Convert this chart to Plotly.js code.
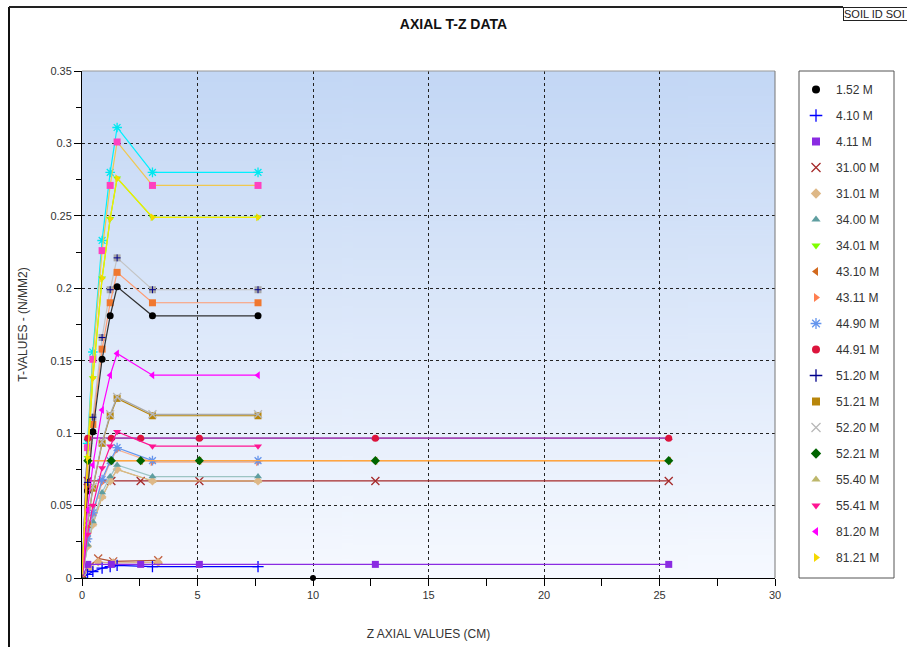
<!DOCTYPE html>
<html><head><meta charset="utf-8">
<script src="https://cdn.plot.ly/plotly-3.0.1.min.js"></script>
<style>html,body{margin:0;padding:0;background:#fff}#chart{width:907px;height:647px}</style>
</head><body><div id="chart"></div>
<script>
// ---- data ----
var zClay  = [0, 0.24, 0.47, 0.87, 1.22, 1.52, 3.05, 7.62];
var zSand  = [0, 0.25, 1.27, 2.54, 5.08, 12.7, 25.4];
var zSmall = [0, 0.33, 0.70, 1.35, 3.30];

var legendNames = ["1.52 M","4.10 M","4.11 M","31.00 M","31.01 M","34.00 M","34.01 M","43.10 M","43.11 M","44.90 M",
                   "44.91 M","51.20 M","51.21 M","52.20 M","52.21 M","55.40 M","55.41 M","81.20 M","81.21 M"];

// legend series values
var t_152  = [0, 0.060, 0.101, 0.151, 0.181, 0.201, 0.181, 0.181];
var t_410  = [0, 0.0025, 0.0045, 0.0068, 0.0079, 0.0087, 0.0078, 0.0078];
var t_411  = [0, 0.0094, 0.0094, 0.0094, 0.0094, 0.0094, 0.0094];
var t_3100 = [0, 0.067, 0.067, 0.067, 0.067, 0.067, 0.067];
var t_3101 = [0, 0.022, 0.037, 0.056, 0.067, 0.075, 0.067, 0.067];
var t_3400 = [0, 0.023, 0.039, 0.059, 0.070, 0.078, 0.070, 0.070];
var t_3401 = [0, 0.083, 0.138, 0.207, 0.248, 0.276, 0.249, 0.249];
var t_4310 = [0, 0.081, 0.081, 0.081, 0.081, 0.081, 0.081];
var t_4311 = [0, 0.027, 0.044, 0.066, 0.080, 0.0885, 0.080, 0.080];
var t_4490 = [0, 0.027, 0.045, 0.068, 0.081, 0.090, 0.081, 0.081];
var t_4491 = [0, 0.0965, 0.0965, 0.0965, 0.0965, 0.0965, 0.0965];
var t_5120 = [0, 0.066, 0.111, 0.166, 0.199, 0.221, 0.199, 0.199];
var t_5121 = [0, 0.037, 0.062, 0.093, 0.112, 0.124, 0.112, 0.112];
var t_5220 = [0, 0.038, 0.063, 0.094, 0.113, 0.125, 0.113, 0.113];
var t_5221 = [0, 0.081, 0.081, 0.081, 0.081, 0.081, 0.081];
var t_5540 = [0, 0.022, 0.037, 0.056, 0.067, 0.075, 0.067, 0.067];
var t_5541 = [0, 0.030, 0.050, 0.076, 0.091, 0.101, 0.091, 0.091];
var t_8120 = [0, 0.047, 0.078, 0.116, 0.140, 0.155, 0.140, 0.140];
var t_8121 = [0, 0.083, 0.138, 0.207, 0.248, 0.276, 0.249, 0.249];

// further curves drawn in the plot whose legend rows are cut off
var t_cyan   = [0, 0.093, 0.156, 0.233, 0.280, 0.311, 0.280, 0.280];
var t_pink   = [0, 0.090, 0.151, 0.226, 0.271, 0.301, 0.271, 0.271];
var t_gray   = [0, 0.066, 0.111, 0.166, 0.199, 0.221, 0.199, 0.199];
var t_orange = [0, 0.063, 0.106, 0.158, 0.190, 0.211, 0.190, 0.190];
var t_orSand = [0, 0.081, 0.081, 0.081, 0.081, 0.081, 0.081];
var t_dmSand = [0, 0.0965, 0.0965, 0.0965, 0.0965, 0.0965, 0.0965];
var t_smallA = [0, 0.0080, 0.0135, 0.0115, 0.0122];
var t_smallB = [0, 0.0070, 0.0110, 0.0105, 0.0108];
var dotX = [10], dotY = [0];

// ---- styles ----
function S(sym, col, lineCol, open){ return {sym:sym, col:col, line:lineCol||col, open:!!open}; }
var styles = {
 "1.52 M":S("circle","#000000","#303030"), "4.10 M":S("cross-thin-open","#0000ff",null,true),
 "4.11 M":S("square","#8a2be2"), "31.00 M":S("x-thin-open","#a52a2a",null,true),
 "31.01 M":S("diamond","#deb887"), "34.00 M":S("triangle-up","#5f9ea0","#9cc4c4"),
 "34.01 M":S("triangle-down","#7fff00"), "43.10 M":S("triangle-left","#d2691e","#f0a050"),
 "43.11 M":S("triangle-right","#ff7f50","#f8b090"), "44.90 M":S("asterisk-open","#6495ed",null,true),
 "44.91 M":S("circle","#dc143c","#a040b0"), "51.20 M":S("cross-thin-open","#00008b","#c0c0c0",true),
 "51.21 M":S("square","#b8860b"), "52.20 M":S("x-thin-open","#b8b8b8","#a8a8a8",true),
 "52.21 M":S("diamond","#006400","#ffa540"), "55.40 M":S("triangle-up","#bdb76b"),
 "55.41 M":S("triangle-down","#ff1493"), "81.20 M":S("triangle-left","#ff00ff"),
 "81.21 M":S("triangle-right","#f5d800","#f5ea00")
};
var series = [
 ["34.01 M", zClay, t_3401], ["55.40 M", zClay, t_5540],
 ["1.52 M", zClay, t_152], ["4.10 M", zClay, t_410], ["4.11 M", zSand, t_411], ["31.00 M", zSand, t_3100],
 ["31.01 M", zClay, t_3101], ["34.00 M", zClay, t_3400], ["43.10 M", zSand, t_4310], ["43.11 M", zClay, t_4311],
 ["44.90 M", zClay, t_4490], ["44.91 M", zSand, t_4491], ["51.21 M", zClay, t_5121], ["52.20 M", zClay, t_5220],
 ["52.21 M", zSand, t_5221], ["55.41 M", zClay, t_5541], ["81.20 M", zClay, t_8120], ["81.21 M", zClay, t_8121]
];
var extras = [
 [zClay, t_cyan,   S("asterisk-open","#00e8f0","#00f0ff",true)],
 [zClay, t_pink,   S("square","#ff40c0","#f0c850")],
 [zClay, t_gray,   S("square","#a8a8a8","#c4c4c4")],
 [zClay, t_orange, S("square","#f07830","#ff9a70")],
 [zSand, t_orSand, S("triangle-left","#ff8c00","#ffa540")],
 [zSand, t_dmSand, S("triangle-up","#8b008b","#a040b0")],
 [zSmall, t_smallA, S("x-thin-open","#c06040","#b05030",true)],
 [zSmall, t_smallB, S("diamond","#e0b080","#d8b890")]
];

function mk(x, y, st){
  return {type:"scatter", mode:"lines+markers", x:x, y:y, showlegend:false, hoverinfo:"x+y",
    line:{color:st.line, width:1.2},
    marker:{symbol:st.sym, size:st.open?8:7, color:st.col, line:{color:st.col, width:st.open?1.3:0}}};
}
var traces = [];
extras.forEach(function(e){ traces.push(mk(e[0], e[1], e[2])); });
series.forEach(function(s){ traces.push(mk(s[1], s[2], styles[s[0]])); });
var t51 = mk(zClay, t_5120, styles["51.20 M"]);
t51.mode = "markers"; t51.marker.size = 5; t51.marker.line.width = 1;
traces.push(t51);
traces.push({type:"scatter", mode:"markers", x:dotX, y:dotY, showlegend:false, cliponaxis:false,
  marker:{symbol:"circle", size:6, color:"#000"}});
// legend entries (markers only)
legendNames.forEach(function(n){
  var st = styles[n];
  traces.push({type:"scatter", mode:"markers", x:[null], y:[null], name:n, legendgroup:n, showlegend:true,
    marker:{symbol:st.sym, size:st.open?9:8, color:st.col, line:{color:st.col, width:st.open?1.3:0}}});
});

// gradient background
var cv = document.createElement("canvas"); cv.width = 4; cv.height = 256;
var cx = cv.getContext("2d"); var g = cx.createLinearGradient(0,0,0,256);
g.addColorStop(0, "#c3d7f5"); g.addColorStop(1, "#f6f9ff");
cx.fillStyle = g; cx.fillRect(0,0,4,256);
var bg = cv.toDataURL("image/png");

var L=82, R=775, T=71, B=578, W=907, H=647;
function px(x){ return (x-L)/(R-L); } function py(y){ return (B-y)/(B-T); }
var tickFont = {family:"Liberation Sans, Arial, sans-serif", size:11, color:"#333"};
var narrow = "Liberation Sans Narrow, Arial Narrow, Liberation Sans, sans-serif";

var layout = {
  width:W, height:H, margin:{l:L, r:W-R, t:T, b:H-B, pad:0, autoexpand:false},
  paper_bgcolor:"#fff", plot_bgcolor:"rgba(0,0,0,0)",
  title:{text:"<b>AXIAL T-Z DATA</b>", x:0.5, xref:"container", y:1-24/H, yanchor:"middle",
         font:{family:narrow, size:14, color:"#111"}},
  xaxis:{range:[0,30], dtick:5, tick0:0, showgrid:true, gridcolor:"#222", griddash:"dot", gridwidth:1,
         zeroline:false, showline:true, linecolor:"#000", linewidth:1, ticks:"outside", ticklen:7, tickcolor:"#000",
         minor:{dtick:2.5, ticks:"outside", ticklen:7, tickcolor:"#000", showgrid:false},
         tickfont:tickFont, title:{text:"Z AXIAL VALUES (CM)", font:{family:narrow, size:12, color:"#333"}, standoff:29}},
  yaxis:{range:[0,0.35], dtick:0.05, tick0:0, showgrid:true, gridcolor:"#222", griddash:"dot", gridwidth:1,
         zeroline:false, showline:true, linecolor:"#000", linewidth:1, ticks:"outside", ticklen:7, tickcolor:"#000",
         minor:{dtick:0.025, ticks:"outside", ticklen:5, tickcolor:"#000", showgrid:false},
         tickfont:tickFont, title:{text:"T-VALUES - (N/MM2)", font:{family:narrow, size:12, color:"#333"}, standoff:20}},
  legend:{x:px(796), xanchor:"left", y:py(75), yanchor:"top", bgcolor:"rgba(0,0,0,0)", borderwidth:0,
          font:{family:"Liberation Sans, Arial, sans-serif", size:12, color:"#333"}, itemwidth:30,
          tracegroupgap:7, traceorder:"grouped"},
  images:[{source:bg, xref:"paper", yref:"paper", x:0, y:1, sizex:1, sizey:1, sizing:"stretch", layer:"below"}],
  shapes:[
    {type:"line", xref:"paper", yref:"paper", x0:0, x1:1, y0:1, y1:1, line:{color:"#999", width:1}},
    {type:"line", xref:"paper", yref:"paper", x0:1, x1:1, y0:0, y1:1, line:{color:"#777", width:1}},
    {type:"line", xref:"paper", yref:"paper", x0:px(9), x1:px(9), y0:py(7), y1:py(650), line:{color:"#111", width:2}},
    {type:"line", xref:"paper", yref:"paper", x0:px(9), x1:px(843), y0:py(7), y1:py(7), line:{color:"#222", width:2}},
    {type:"rect", xref:"paper", yref:"paper", x0:px(799), x1:px(894), y0:py(71), y1:py(578), layer:"below",
     fillcolor:"#fff", line:{color:"#555", width:1}}
  ],
  annotations:[{text:"SOIL ID SOI", xref:"paper", yref:"paper", x:px(843), y:py(14), xanchor:"left", yanchor:"middle",
    showarrow:false, bordercolor:"#222", borderwidth:1, borderpad:0, bgcolor:"#fff", align:"left", width:70,
    font:{family:narrow, size:11, color:"#222"}}]
};
Plotly.newPlot("chart", traces, layout, {displayModeBar:false, staticPlot:true});
</script></body></html>
